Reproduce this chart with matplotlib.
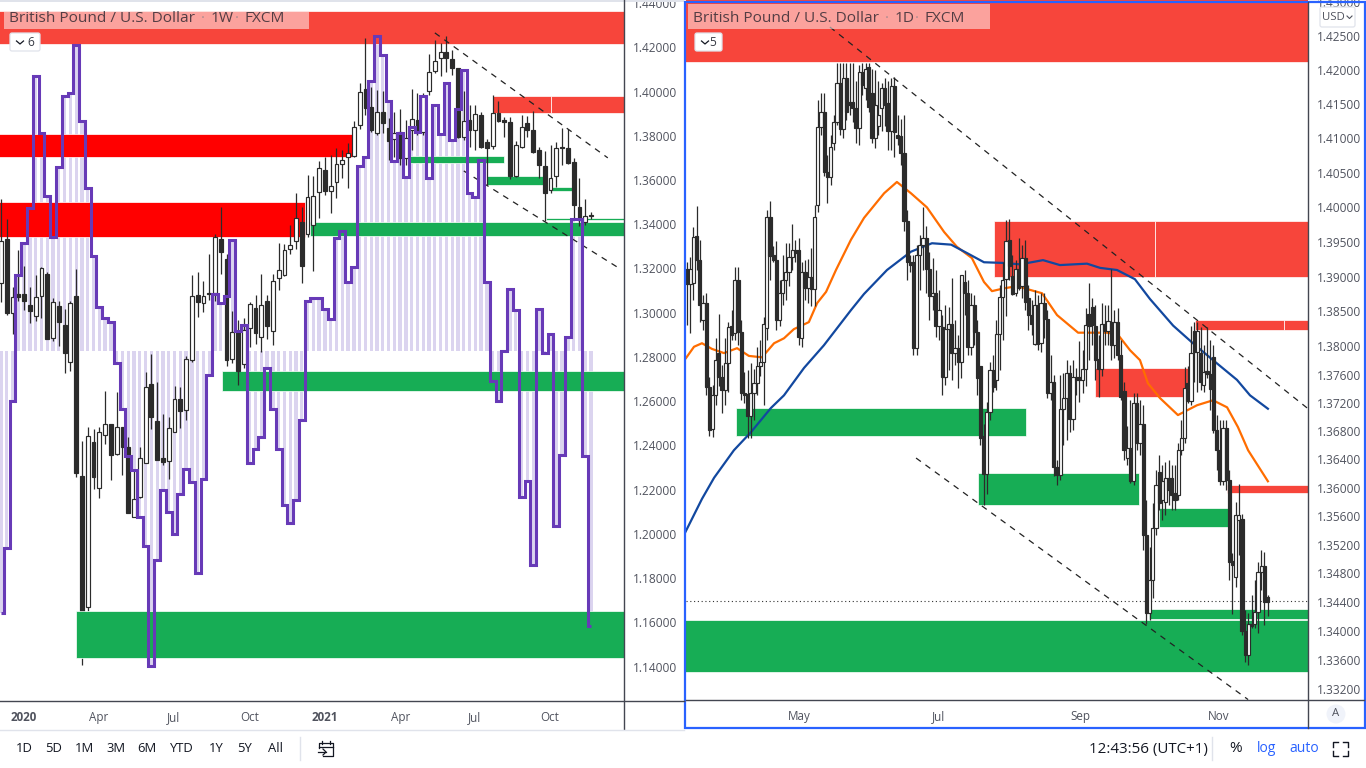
import numpy as np
import matplotlib
matplotlib.use("Agg")
import matplotlib.pyplot as plt
from matplotlib.patches import Rectangle, FancyBboxPatch, Circle
from matplotlib.ticker import FixedLocator, NullLocator, FormatStrFormatter

plt.rcParams['font.family'] = ['Open Sans', 'DejaVu Sans']

# ---------- weekly pane ----------
w_open = [1.3135,1.3334,1.2999,1.3085,1.3085,1.3035,1.2986,1.3076,1.3176,1.2886,
          1.3031,1.2945,1.2778,1.3076,1.2262,1.1670,1.2416,1.2208,1.2448,1.2498,
          1.2362,1.2484,1.2394,1.2077,1.2168,1.2321,1.2678,1.2511,1.2344,1.2330,
          1.2461,1.2611,1.2561,1.2787,1.3081,1.3044,1.3090,1.3090,1.3334,1.3243,
          1.2791,1.2913,1.2769,1.2931,1.3022,1.2891,1.3053,1.2918,1.3157,1.3171,
          1.3289,1.3325,1.3411,1.3356,1.3397,1.3546,1.3646,1.3551,1.3591,1.3673,
          1.3704,1.3709,1.3849,1.4012,1.3930,1.3813,1.3908,1.3835,1.3786,1.3817,
          1.3700,1.3826,1.3872,1.3817,1.4003,1.4093,1.4152,1.4179,1.4147,1.4107,
          1.3795,1.3872,1.3826,1.3894,1.3772,1.3754,1.3903,1.3872,1.3863,1.3618,
          1.3750,1.3858,1.3826,1.3736,1.3664,1.3555,1.3618,1.3750,1.3745,1.3682,
          1.3478,1.3411,1.3442]
w_high = [1.3515,1.3424,1.3117,1.3284,1.3212,1.3117,1.3171,1.3207,1.3185,1.3067,
          1.3053,1.3017,1.3053,1.3198,1.2421,1.2484,1.2475,1.2484,1.2647,1.2498,
          1.2642,1.2484,1.2439,1.2285,1.2394,1.2733,1.2814,1.2687,1.2543,1.2529,
          1.2669,1.2665,1.2805,1.3171,1.3185,1.3144,1.3266,1.3356,1.3478,1.3266,
          1.3008,1.2968,1.2977,1.3049,1.3081,1.3176,1.3081,1.3176,1.3316,1.3311,
          1.3397,1.3542,1.3478,1.3623,1.3618,1.3686,1.3704,1.3713,1.3745,1.3736,
          1.3768,1.3867,1.4039,1.4242,1.4021,1.4007,1.4003,1.3881,1.3908,1.3921,
          1.3872,1.4012,1.3994,1.3994,1.4170,1.4233,1.4220,1.4251,1.4188,1.4107,
          1.4003,1.3939,1.3939,1.3908,1.3786,1.3985,1.3957,1.3885,1.3885,1.3777,
          1.3894,1.3890,1.3912,1.3750,1.3731,1.3759,1.3772,1.3835,1.3831,1.3700,
          1.3609,1.3515,1.3456]
w_low = [1.3049,1.2990,1.2904,1.3053,1.3013,1.2954,1.2963,1.2977,1.2882,1.2873,
         1.2850,1.2728,1.2737,1.2258,1.1408,1.1652,1.2204,1.2163,1.2407,1.2244,
         1.2357,1.2267,1.2095,1.2077,1.2163,1.2321,1.2475,1.2335,1.2312,1.2249,
         1.2461,1.2479,1.2516,1.2778,1.2981,1.3004,1.3058,1.3053,1.3176,1.2760,
         1.2773,1.2674,1.2751,1.2846,1.2859,1.2823,1.2882,1.2855,1.3103,1.3166,
         1.3266,1.3289,1.3135,1.3343,1.3189,1.3429,1.3533,1.3451,1.3519,1.3609,
         1.3564,1.3704,1.3831,1.3894,1.3817,1.3804,1.3813,1.3691,1.3704,1.3668,
         1.3668,1.3736,1.3804,1.3804,1.3985,1.4084,1.4070,1.4089,1.4075,1.3790,
         1.3781,1.3750,1.3736,1.3745,1.3578,1.3741,1.3863,1.3795,1.3605,1.3614,
         1.3745,1.3795,1.3722,1.3609,1.3415,1.3542,1.3569,1.3668,1.3673,1.3429,
         1.3392,1.3397,1.3424]
w_close = [1.3325,1.2999,1.3072,1.3072,1.3053,1.3008,1.3072,1.3203,1.2882,1.3049,
           1.2959,1.2818,1.3044,1.2276,1.1652,1.2443,1.2258,1.2461,1.2498,1.2357,
           1.2484,1.2394,1.2095,1.2159,1.2344,1.2665,1.2529,1.2335,1.2326,1.2479,
           1.2611,1.2556,1.2791,1.3076,1.3049,1.3076,1.3085,1.3343,1.3275,1.2787,
           1.2913,1.2737,1.2922,1.3040,1.2909,1.3035,1.2940,1.3144,1.3194,1.3284,
           1.3307,1.3429,1.3212,1.3524,1.3528,1.3655,1.3551,1.3573,1.3673,1.3691,
           1.3722,1.3840,1.3998,1.3926,1.3826,1.3908,1.3858,1.3777,1.3813,1.3700,
           1.3790,1.3876,1.3826,1.3980,1.4089,1.4138,1.4179,1.4152,1.4107,1.3795,
           1.3867,1.3826,1.3899,1.3750,1.3745,1.3903,1.3867,1.3863,1.3618,1.3759,
           1.3840,1.3826,1.3727,1.3668,1.3542,1.3609,1.3745,1.3745,1.3677,1.3487,
           1.3424,1.3438,1.3438]
overlay_line = [1.1643,1.1937,1.2601,1.3171,1.3316,1.3474,1.4070,1.3813,1.3528,1.3343,
                1.3659,1.3980,1.3994,1.4211,1.3867,1.3564,1.3257,1.3026,1.2977,1.2959,
                1.2773,1.2565,1.2353,1.2290,1.2077,1.1946,1.1404,1.1883,1.2199,1.2100,
                1.2000,1.2181,1.2294,1.2235,1.1824,1.2249,1.2719,1.3085,1.3044,1.3076,
                1.3329,1.2918,1.2945,1.2321,1.2385,1.2439,1.2751,1.2565,1.2385,1.2131,
                1.2050,1.2154,1.2516,1.3053,1.3067,1.3067,1.3017,1.2972,1.3338,1.3370,
                1.3139,1.3207,1.3664,1.3704,1.4048,1.4251,1.4165,1.3957,1.3686,1.3813,
                1.3614,1.3840,1.3817,1.3980,1.3609,1.3939,1.3808,1.4039,1.3781,1.3921,
                1.4098,1.3542,1.3524,1.3691,1.3139,1.2692,1.2601,1.2827,1.3108,1.3013,
                1.2168,1.2240,1.1860,1.3017,1.2818,1.2904,1.2036,1.2357,1.2891,1.3424,
                1.3424,1.2353,1.1584]
overlay_base = 1.2827

w_zone_x0  = [-2,-2,-2,85.0,95.1,70.7,84.0,95.2,94.2,53.4,38.2,13.0]
w_zone_x1  = [109,60.7,52.5,95.0,109,86.9,93.7,98.7,109,109,109,109]
w_zone_top = [1.4362,1.3808,1.3501,1.3980,1.3980,1.3709,1.3618,1.3569,1.3429,1.3411,1.2737,1.1650]
w_zone_bot = [1.4215,1.3704,1.3343,1.3903,1.3903,1.3677,1.3578,1.3551,1.3420,1.3347,1.2647,1.1440]
w_zone_kind = ['s','r','r','s','s','g','g','g','g','g','g','g']
w_zone_over_candles = [False]*11 + [True]
w_trend_x = [[75.0,104.9],[80.0,106.5]]
w_trend_y = [[1.4265,1.3700],[1.3641,1.3207]]
w_ticks = [3.98,16.9,29.9,43.0,56.0,69.0,81.9,94.9]
w_tick_labels = ['2020','Apr','Jul','Oct','2021','Apr','Jul','Oct']
w_price_ticks = [1.14,1.16,1.18,1.20,1.22,1.24,1.26,1.28,1.30,1.32,1.34,1.36,1.38,1.40,1.42,1.44]

# ---------- daily pane (read with a straight ruler, see ruler_to_price below) ----------
d_open = [1.3917,1.3896,1.3897,1.3964,1.3930,1.3845,1.3869,1.3750,1.3690,1.3738,
          1.3798,1.3764,1.3746,1.3784,1.3836,1.3826,1.3902,1.3828,1.3741,1.3740,
          1.3708,1.3741,1.3755,1.3779,1.3786,1.3833,1.3991,1.3937,1.3930,1.3845,
          1.3883,1.3902,1.3913,1.3934,1.3945,1.3945,1.3819,1.3913,1.3890,1.3906,
          1.3889,1.4008,1.4119,1.4140,1.4055,1.4048,1.4096,1.4126,1.4181,1.4116,
          1.4188,1.4154,1.4154,1.4146,1.4117,1.4197,1.4175,1.4204,1.4168,1.4104,
          1.4121,1.4146,1.4175,1.4153,1.4114,1.4177,1.4107,1.4106,1.4082,1.3985,
          1.3927,1.3927,1.3805,1.3937,1.3951,1.3962,1.3918,1.3879,1.3883,1.3836,
          1.3835,1.3764,1.3832,1.3840,1.3798,1.3805,1.3786,1.3899,1.3884,1.3806,
          1.3867,1.3828,1.3779,1.3680,1.3627,1.3714,1.3774,1.3760,1.3825,1.3877,
          1.3903,1.3959,1.3907,1.3883,1.3918,1.3893,1.3933,1.3876,1.3852,1.3811,
          1.3867,1.3812,1.3869,1.3847,1.3741,1.3757,1.3636,1.3625,1.3718,1.3734,
          1.3770,1.3705,1.3764,1.3764,1.3760,1.3775,1.3853,1.3863,1.3836,1.3789,
          1.3776,1.3840,1.3830,1.3842,1.3809,1.3842,1.3796,1.3744,1.3649,1.3663,
          1.3616,1.3727,1.3671,1.3698,1.3539,1.3429,1.3476,1.3549,1.3629,1.3589,
          1.3586,1.3620,1.3620,1.3599,1.3596,1.3661,1.3677,1.3755,1.3730,1.3830,
          1.3799,1.3798,1.3752,1.3772,1.3769,1.3793,1.3689,1.3661,1.3616,1.3691,
          1.3618,1.3503,1.3480,1.3561,1.3562,1.3404,1.3369,1.3414,1.3413,1.3430,
          1.3487,1.3495,1.3451]
d_high = [1.3927,1.3934,1.3977,1.4007,1.3959,1.3880,1.3883,1.3764,1.3753,1.3819,
          1.3853,1.3781,1.3819,1.3842,1.3859,1.3920,1.3920,1.3845,1.3771,1.3774,
          1.3784,1.3776,1.3806,1.3816,1.3849,1.4001,1.4014,1.3950,1.3957,1.3902,
          1.3937,1.3955,1.3955,1.3981,1.3958,1.3962,1.3927,1.3930,1.3931,1.3947,
          1.4009,1.4158,1.4167,1.4167,1.4080,1.4107,1.4136,1.4210,1.4210,1.4210,
          1.4210,1.4210,1.4210,1.4185,1.4207,1.4210,1.4210,1.4210,1.4202,1.4200,
          1.4185,1.4182,1.4188,1.4185,1.4188,1.4190,1.4136,1.4131,1.4136,1.4001,
          1.3937,1.3937,1.3951,1.3965,1.4005,1.3978,1.3941,1.3933,1.3916,1.3887,
          1.3852,1.3866,1.3863,1.3904,1.3845,1.3823,1.3909,1.3916,1.3902,1.3884,
          1.3881,1.3845,1.3779,1.3697,1.3728,1.3785,1.3795,1.3845,1.3895,1.3927,
          1.3987,1.3988,1.3937,1.3930,1.3962,1.3951,1.3958,1.3895,1.3873,1.3887,
          1.3881,1.3884,1.3884,1.3859,1.3795,1.3767,1.3646,1.3767,1.3770,1.3788,
          1.3781,1.3788,1.3777,1.3815,1.3802,1.3862,1.3897,1.3876,1.3866,1.3823,
          1.3869,1.3866,1.3866,1.3918,1.3859,1.3862,1.3816,1.3757,1.3695,1.3731,
          1.3741,1.3741,1.3731,1.3724,1.3589,1.3522,1.3585,1.3632,1.3653,1.3639,
          1.3643,1.3646,1.3639,1.3639,1.3670,1.3703,1.3778,1.3779,1.3837,1.3842,
          1.3842,1.3835,1.3809,1.3835,1.3816,1.3809,1.3710,1.3703,1.3703,1.3703,
          1.3632,1.3514,1.3586,1.3612,1.3570,1.3433,1.3429,1.3454,1.3476,1.3501,
          1.3518,1.3515,1.3454]
d_low = [1.3838,1.3827,1.3873,1.3916,1.3842,1.3831,1.3738,1.3680,1.3679,1.3724,
         1.3751,1.3713,1.3724,1.3743,1.3817,1.3817,1.3809,1.3731,1.3727,1.3677,
         1.3677,1.3703,1.3738,1.3766,1.3724,1.3816,1.3902,1.3927,1.3831,1.3836,
         1.3866,1.3873,1.3893,1.3916,1.3927,1.3809,1.3806,1.3873,1.3869,1.3865,
         1.3865,1.3998,1.4107,1.4050,1.4011,1.4036,1.4086,1.4122,1.4107,1.4103,
         1.4129,1.4136,1.4126,1.4096,1.4093,1.4164,1.4157,1.4140,1.4097,1.4089,
         1.4107,1.4114,1.4121,1.4086,1.4086,1.4076,1.4093,1.4065,1.3972,1.3902,
         1.3913,1.3795,1.3795,1.3887,1.3916,1.3884,1.3845,1.3859,1.3821,1.3817,
         1.3738,1.3752,1.3774,1.3760,1.3781,1.3748,1.3762,1.3852,1.3795,1.3795,
         1.3809,1.3738,1.3667,1.3582,1.3598,1.3703,1.3743,1.3746,1.3774,1.3817,
         1.3850,1.3902,1.3880,1.3879,1.3887,1.3876,1.3859,1.3831,1.3823,1.3809,
         1.3802,1.3799,1.3819,1.3734,1.3731,1.3624,1.3610,1.3618,1.3667,1.3674,
         1.3686,1.3689,1.3738,1.3728,1.3741,1.3751,1.3788,1.3809,1.3760,1.3735,
         1.3766,1.3809,1.3809,1.3788,1.3791,1.3788,1.3731,1.3646,1.3639,1.3613,
         1.3610,1.3660,1.3653,1.3518,1.3414,1.3419,1.3450,1.3539,1.3575,1.3561,
         1.3568,1.3582,1.3575,1.3575,1.3589,1.3653,1.3671,1.3727,1.3724,1.3757,
         1.3743,1.3745,1.3743,1.3762,1.3717,1.3684,1.3632,1.3610,1.3610,1.3603,
         1.3476,1.3427,1.3466,1.3511,1.3397,1.3360,1.3355,1.3407,1.3407,1.3400,
         1.3461,1.3412,1.3424]
d_close = [1.3896,1.3917,1.3963,1.3930,1.3866,1.3869,1.3750,1.3689,1.3738,1.3788,
           1.3764,1.3746,1.3784,1.3835,1.3823,1.3902,1.3828,1.3741,1.3738,1.3708,
           1.3741,1.3755,1.3779,1.3786,1.3839,1.3991,1.3936,1.3930,1.3845,1.3883,
           1.3902,1.3913,1.3934,1.3945,1.3940,1.3821,1.3913,1.3890,1.3906,1.3889,
           1.3991,1.4119,1.4140,1.4055,1.4048,1.4090,1.4126,1.4181,1.4116,1.4188,
           1.4140,1.4150,1.4146,1.4117,1.4197,1.4178,1.4202,1.4147,1.4104,1.4151,
           1.4136,1.4175,1.4151,1.4113,1.4177,1.4112,1.4104,1.4082,1.3985,1.3927,
           1.3923,1.3805,1.3937,1.3951,1.3962,1.3918,1.3879,1.3883,1.3836,1.3859,
           1.3764,1.3832,1.3840,1.3798,1.3805,1.3786,1.3909,1.3883,1.3806,1.3867,
           1.3828,1.3762,1.3678,1.3627,1.3714,1.3774,1.3750,1.3825,1.3877,1.3902,
           1.3957,1.3921,1.3882,1.3918,1.3891,1.3933,1.3870,1.3852,1.3840,1.3867,
           1.3811,1.3869,1.3847,1.3741,1.3757,1.3636,1.3625,1.3718,1.3734,1.3770,
           1.3705,1.3764,1.3760,1.3760,1.3775,1.3838,1.3836,1.3838,1.3788,1.3776,
           1.3839,1.3830,1.3843,1.3809,1.3842,1.3796,1.3735,1.3660,1.3663,1.3616,
           1.3727,1.3671,1.3698,1.3539,1.3429,1.3476,1.3549,1.3610,1.3585,1.3617,
           1.3620,1.3603,1.3596,1.3589,1.3661,1.3677,1.3749,1.3730,1.3798,1.3799,
           1.3830,1.3757,1.3771,1.3769,1.3747,1.3689,1.3661,1.3616,1.3691,1.3618,
           1.3501,1.3497,1.3568,1.3568,1.3403,1.3369,1.3414,1.3411,1.3430,1.3487,
           1.3495,1.3444,1.3444]
ma_fast_x = [-0.3,2.2,4.7,7.8,11.6,15.7,19.4,23.5,27.3,30.4,33.5,38.2,40.8,43.6,46.7,51.4,55.5,61.8,65.8,
             70.2,75.2,80.6,84.6,89.3,93.1,95.6,99.4,103.4,111.3,116.0,122.6,131.7,135.1,138.9,142.0,
             144.5,148.3,153.9,159.9,164.9,169.3,172.7,175.9,182.1]
ma_fast_y = [1.3791,1.3807,1.3812,1.3804,1.3798,1.3805,1.3794,1.3792,1.3812,1.3819,1.3832,1.3842,1.3869,
             1.3885,1.3916,1.3959,1.3990,1.4025,1.4041,1.4025,1.4005,1.3970,1.3949,1.3933,1.3899,1.3886,
             1.3890,1.3893,1.3883,1.3852,1.3827,1.3827,1.3824,1.3802,1.3788,1.3755,1.3734,1.3710,1.3724,
             1.3731,1.3721,1.3693,1.3660,1.3616]
ma_slow_x = [-0.6,4.7,8.5,14.7,20.1,26.3,30.4,36.7,42.9,51.4,55.5,62.7,70.2,76.8,82.8,87.8,93.1,99.4,104.4,
             111.6,116.9,125.4,129.5,134.8,140.4,145.1,152.4,158.6,164.9,172.4,176.5,182.1]
ma_slow_y = [1.3543,1.3591,1.3621,1.3660,1.3686,1.3720,1.3738,1.3777,1.3809,1.3859,1.3882,1.3916,1.3942,
             1.3954,1.3952,1.3940,1.3927,1.3926,1.3924,1.3930,1.3923,1.3925,1.3919,1.3916,1.3903,1.3875,
             1.3837,1.3812,1.3788,1.3760,1.3738,1.3719]
d_zone_x0  = [-2,96.2,146.8,159.2,187.2,127.9,169.3,15.4,91.2,148.0,144.8,-2]
d_zone_x1  = [196,146.6,196,187.0,196,157.0,196,106.3,141.7,169.9,196,196]
d_zone_top = [1.4310,1.3986,1.3986,1.3845,1.3845,1.3777,1.3611,1.3720,1.3628,1.3578,1.3435,1.3419]
d_zone_bot = [1.4211,1.3906,1.3906,1.3831,1.3831,1.3736,1.3599,1.3680,1.3582,1.3551,1.3421,1.3345]
d_zone_kind = ['s','s','s','s','s','s','s','g','g','g','g','g']
d_trend_x = [[44.8,194.7],[71.8,175.9]]
d_trend_y = [[1.4261,1.3719],[1.3649,1.3306]]
d_last_price = 1.34457
d_ticks = [35.1,79.0,123.2,166.5]
d_tick_labels = ['May','Jul','Sep','Nov']
d_price_ticks = [1.332,1.336,1.34,1.344,1.348,1.352,1.356,1.36,1.364,1.368,1.372,1.376,
                 1.38,1.385,1.39,1.395,1.40,1.405,1.41,1.415,1.42,1.425,1.43]

ZONE = {'s': '#f7453b', 'r': '#ff0000', 'g': '#17ad55'}
INK = '#2b2b2b'
LBL = '#50535e'

W, H = 1366, 768
fig = plt.figure(figsize=(W/100, H/100), dpi=100, facecolor='white')

def pane(x0, y0, x1, y1):
    return fig.add_axes([x0/W, 1-y1/H, (x1-x0)/W, (y1-y0)/H], facecolor='white')

def ruler_to_price(p):
    # The daily pane is on a log scale; readings were first taken with a
    # straight ruler, this converts them to the log scale's prices.
    px = (1.42994 - np.asarray(p, float)) / 0.000142
    return 1.425*np.exp(-0.00010335*(px-36))

def draw_candles(ax, o, h, l, c, width, f=lambda v: np.asarray(v, float)):
    o, h, l, c = f(o), f(h), f(l), f(c)
    x = np.arange(len(o))
    ax.vlines(x, l, h, color=INK, lw=0.9, zorder=3)
    up = c >= o
    ax.bar(x, np.abs(c-o), bottom=np.minimum(o, c), width=width,
           color=['white' if u else INK for u in up], edgecolor=INK, linewidth=0.85, zorder=3.1)

def draw_zones(ax, x0, x1, top, bot, kind, over=None, f=lambda v: v):
    over = over or [False]*len(x0)
    for a, b, t, d, k, o in zip(x0, x1, top, bot, kind, over):
        t, d = f(t), f(d)
        ax.add_patch(Rectangle((a, d), b-a, t-d, facecolor=ZONE[k], edgecolor='white', linewidth=0.5,
                               zorder=3.5 if o else 2))

def finish(ax, xlim, ticks, labels, prices, fmt='%.5f'):
    ax.set_xlim(*xlim)
    for s in ax.spines.values():
        s.set_visible(False)
    ax.set_xticks(ticks)
    ax.set_xticklabels(labels, fontsize=8.4, color=LBL)
    for t, l in zip(ax.get_xticklabels(), labels):
        if l.isdigit():
            t.set_fontweight('bold')
    ax.tick_params(axis='x', length=0, pad=7)
    ax.yaxis.tick_right()
    ax.yaxis.set_major_locator(FixedLocator(prices))
    ax.yaxis.set_minor_locator(NullLocator())
    ax.yaxis.set_major_formatter(FormatStrFormatter(fmt))
    ax.yaxis.set_minor_formatter(plt.NullFormatter())
    ax.tick_params(axis='y', which='both', length=0, pad=6.5, labelsize=8.6, labelcolor=LBL)

# weekly
ax1 = pane(0, 0, 624, 701)
idx = np.arange(len(overlay_line))
vals = np.array(overlay_line)
ax1.bar(idx, vals-overlay_base, bottom=overlay_base, width=0.57, color='#dbd4ef', linewidth=0, zorder=1)
draw_zones(ax1, w_zone_x0, w_zone_x1, w_zone_top, w_zone_bot, w_zone_kind, w_zone_over_candles)
draw_candles(ax1, w_open, w_high, w_low, w_close, 0.66)
for xs, ys in zip(w_trend_x, w_trend_y):
    ax1.plot(xs, ys, color='#222222', lw=0.9, ls=(0, (4.8, 4.5)), zorder=4)
ax1.step(idx, vals, where='mid', color='#673ab7', lw=2.2, solid_joinstyle='miter', solid_capstyle='butt', zorder=5)
ax1.set_ylim(1.1245, 1.44136)
finish(ax1, (-0.17, 107.7), w_ticks, w_tick_labels, w_price_ticks)

# daily
ax2 = pane(686, 0, 1308, 700)
ax2.set_yscale('log')
draw_zones(ax2, d_zone_x0, d_zone_x1, d_zone_top, d_zone_bot, d_zone_kind, f=ruler_to_price)
ax2.plot(ma_fast_x, ruler_to_price(ma_fast_y), color='#ff6d00', lw=1.6, zorder=2.5)
ax2.plot(ma_slow_x, ruler_to_price(ma_slow_y), color='#12489f', lw=1.6, zorder=2.5)
ax2.axhline(ruler_to_price(d_last_price), color='#333333', lw=0.8, ls=(0, (1, 2.4)), zorder=2.6)
draw_candles(ax2, d_open, d_high, d_low, d_close, 1.0, ruler_to_price)
for xs, ys in zip(d_trend_x, d_trend_y):
    ax2.plot(xs, ruler_to_price(ys), color='#222222', lw=0.9, ls=(0, (4.8, 4.5)), zorder=4)
ax2.set_ylim(1.425*np.exp(-0.00010335*(700-36)), 1.425*np.exp(0.00010335*36))
finish(ax2, (-0.31, 194.67), d_ticks, d_tick_labels, d_price_ticks)

# chrome, in figure pixels
ov = fig.add_axes([0, 0, 1, 1], facecolor='none', zorder=20)
ov.set_xlim(0, W); ov.set_ylim(H, 0); ov.axis('off')
AX = '#434651'
ov.plot([0, 684], [701, 701], color=AX, lw=1)
ov.plot([624, 624], [0, 729], color=AX, lw=1)
ov.plot([686, 1364], [700, 700], color=AX, lw=1)
ov.plot([1308, 1308], [2, 728], color=AX, lw=1)
ov.plot([0, 684], [729.5, 729.5], color='#e0e3eb', lw=1)
ov.add_patch(Rectangle((0, 0), 684, 2, facecolor='#e0e3eb', edgecolor='none'))
ov.add_patch(Rectangle((685, 2), 680, 726, facecolor='none', edgecolor='#2962ff', lw=1.6))

for x0, x1, y0, segs, box, num in [
    (4, 309, 12, [(9, 'British Pound / U.S. Dollar'), (211, '1W'), (245, 'FXCM')], (10, 33, 30, 18), '6'),
    (688, 990, 4, [(693, 'British Pound / U.S. Dollar'), (895, '1D'), (925, 'FXCM')], (695, 33, 27, 18), '5')]:
    ov.add_patch(Rectangle((x0, y0), x1-x0, 29-y0, facecolor='white', alpha=0.5, edgecolor='none'))
    for x, s in segs:
        ov.text(x, 18, s, fontsize=11.1, color='#131722', alpha=0.72, va='center', ha='left')
    for dot_x in (segs[1][0]-8, segs[2][0]-8):
        ov.text(dot_x, 18, '·', fontsize=11, color='#787b86', alpha=0.6, va='center', ha='center')
    bx, by, bw, bh = box
    ov.add_patch(FancyBboxPatch((bx+2, by+2), bw-4, bh-4, boxstyle='round,pad=2', facecolor='white', edgecolor='#e0e3eb', lw=0.9))
    cx = bx+10
    ov.plot([cx-3.5, cx, cx+3.5], [by+8, by+11, by+8], color='#131722', lw=0.9)
    ov.text(bx+bw-9, by+9.5, num, fontsize=8.6, color='#131722', alpha=0.85, ha='center', va='center')

ov.add_patch(FancyBboxPatch((1322, 9), 31, 16, boxstyle='round,pad=2', facecolor='white', edgecolor='#e0e3eb', lw=0.9))
ov.text(1333, 17.5, 'USD', fontsize=8.2, color=LBL, ha='center', va='center')
ov.plot([1347, 1349.5, 1352], [16, 18.5, 16], color=LBL, lw=0.8)
ov.add_patch(Circle((1336, 714), 9.5, facecolor='#f0f3fa', edgecolor='none'))
ov.text(1336, 714, 'A', fontsize=8.2, color=LBL, ha='center', va='center')

for x, s in [(24, '1D'), (54, '5D'), (85, '1M'), (116, '3M'), (147, '6M'), (182, 'YTD'), (216, '1Y'), (245, '5Y'), (275, 'All')]:
    ov.text(x, 749, s, fontsize=9.4, color='#131722', ha='center', va='center')
ov.plot([300, 300], [737, 760], color='#e0e3eb', lw=1)
ov.plot([1212, 1212], [737, 760], color='#e0e3eb', lw=1)
# calendar icon
ci = '#131722'
ov.plot([319, 319, 333, 333, 323], [748, 743, 743, 756, 756], color=ci, lw=0.9)
ov.plot([319, 333], [746.5, 746.5], color=ci, lw=0.9)
ov.plot([322, 322], [741, 744], color=ci, lw=0.9)
ov.plot([330, 330], [741, 744], color=ci, lw=0.9)
ov.plot([318, 326], [752, 752], color=ci, lw=0.9)
ov.plot([323, 326, 323], [749, 752, 755], color=ci, lw=0.9)

ov.text(1148, 749, '12:43:56 (UTC+1)', fontsize=10.9, color='#131722', ha='center', va='center')
ov.text(1236, 749, '%', fontsize=11, color='#131722', ha='center', va='center')
ov.text(1267, 749, 'log', fontsize=10, color='#2962ff', ha='center', va='center')
ov.text(1304, 749, 'auto', fontsize=10, color='#2962ff', ha='center', va='center')
for xs, ys in [([1333, 1333, 1338], [747, 742, 742]), ([1343, 1348, 1348], [742, 742, 747]),
               ([1348, 1348, 1343], [751, 756, 756]), ([1338, 1333, 1333], [756, 756, 751])]:
    ov.plot(xs, ys, color='#131722', lw=1)

fig.savefig('out.png', dpi=100)
